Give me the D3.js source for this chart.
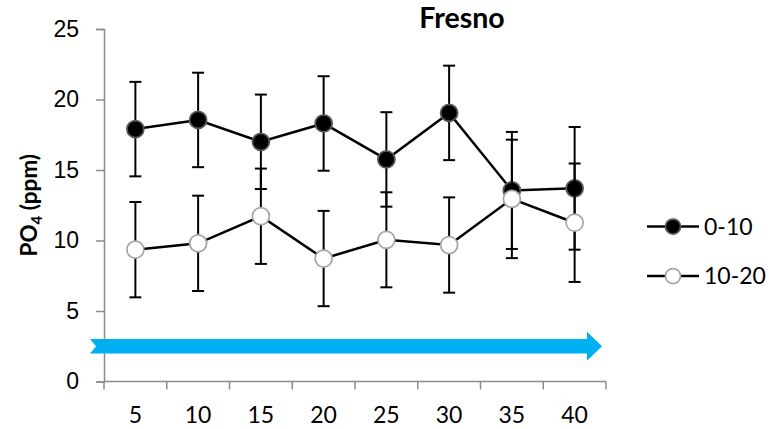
<!DOCTYPE html>
<html>
<head>
<meta charset="utf-8">
<script src="https://cdn.jsdelivr.net/npm/d3@7"></script>
<style>
  html, body { margin: 0; padding: 0; background: #fff; }
  svg { display: block; font-family: Lato, "Open Sans", sans-serif; }
  .tick-label { font-size: 23px; fill: #000; }
</style>
</head>
<body>
<div id="chart"></div>
<script>
const DEPTHS = ["5", "10", "15", "20", "25", "30", "35", "40"];
const Y_TICKS = [0, 5, 10, 15, 20, 25];
const SERIES_NAMES = ["0-10", "10-20"];
const SHALLOW_MEAN = [17.9, 18.55, 17.0, 18.3, 15.75, 19.05, 13.55, 13.7];
const SHALLOW_ERR = [3.35, 3.35, 3.35, 3.35, 3.35, 3.35, 4.15, 4.35];
const DEEP_MEAN = [9.35, 9.8, 11.72, 8.72, 10.05, 9.68, 12.95, 11.26];
const DEEP_ERR = [3.38, 3.38, 3.38, 3.38, 3.37, 3.38, 4.2, 4.2];

function drawChart() {
  const width = 771;
  const height = 429;
  const margin = { top: 29, right: 165, bottom: 47.5, left: 104 };

  const svg = d3.select("#chart").append("svg").attr("width", width).attr("height", height);

  const x = d3.scaleBand().domain(DEPTHS).range([margin.left, width - margin.right]);
  const y = d3.scaleLinear().domain([0, 25]).range([height - margin.bottom, margin.top]);
  const axisColor = "#8c8c8c";

  // y axis
  svg
    .append("g")
    .attr("transform", `translate(${margin.left}, 0)`)
    .call(d3.axisLeft(y).tickValues(Y_TICKS).tickSize(8).tickPadding(17))
    .call((g) => g.select(".domain").attr("stroke", axisColor).attr("stroke-width", 1.5))
    .call((g) => g.selectAll("line").attr("stroke", axisColor).attr("stroke-width", 1.5))
    .call((g) => g.selectAll("text").attr("class", "tick-label").attr("font-family", null).attr("font-size", null));

  // x axis: ticks sit between categories
  const xAxis = svg.append("g").attr("transform", `translate(0, ${y(0)})`);
  xAxis
    .append("line")
    .attr("x1", margin.left)
    .attr("x2", width - margin.right)
    .attr("stroke", axisColor)
    .attr("stroke-width", 1.5);
  const edges = DEPTHS.map((d) => x(d)).concat([x(DEPTHS[DEPTHS.length - 1]) + x.bandwidth()]);
  xAxis
    .selectAll("line.tk")
    .data(edges)
    .join("line")
    .attr("class", "tk")
    .attr("x1", (d) => d)
    .attr("x2", (d) => d)
    .attr("y1", 0)
    .attr("y2", 8)
    .attr("stroke", axisColor)
    .attr("stroke-width", 1.5);
  xAxis
    .selectAll("text")
    .data(DEPTHS)
    .join("text")
    .attr("class", "tick-label")
    .attr("x", (d) => x(d) + x.bandwidth() / 2)
    .attr("y", 41)
    .attr("text-anchor", "middle")
    .text((d) => d);

  // blue arrow annotation along the bottom of the plot
  const ax0 = margin.left - 14;
  const ax1 = width - margin.right - 4;
  const bandTop = y(3.02);
  const bandBot = y(1.98);
  const headTop = y(3.52);
  const headBot = y(1.47);
  const mid = y(2.5);
  const headStart = ax1 - 15;
  svg
    .append("path")
    .attr(
      "d",
      `M${ax0},${bandTop} L${headStart},${bandTop} L${headStart},${headTop} L${ax1},${mid} L${headStart},${headBot} L${headStart},${bandBot} L${ax0},${bandBot} L${ax0 + 6},${mid} Z`,
    )
    .attr("fill", "#00b0f0");

  const series = [
    { name: SERIES_NAMES[0], mean: SHALLOW_MEAN, err: SHALLOW_ERR, fill: "#000", stroke: "#595959" },
    { name: SERIES_NAMES[1], mean: DEEP_MEAN, err: DEEP_ERR, fill: "#fff", stroke: "#a6a6a6" },
  ];

  const cx = (i) => x(DEPTHS[i]) + x.bandwidth() / 2;

  series.forEach((s) => {
    const g = svg.append("g");
    const pts = s.mean.map((v, i) => ({ i, v, e: s.err[i] }));

    // error bars
    const eb = g.append("g").attr("stroke", "#000").attr("stroke-width", 2);
    eb.selectAll("line.v")
      .data(pts)
      .join("line")
      .attr("x1", (d) => cx(d.i))
      .attr("x2", (d) => cx(d.i))
      .attr("y1", (d) => y(d.v + d.e))
      .attr("y2", (d) => y(d.v - d.e));
    eb.selectAll("line.top")
      .data(pts)
      .join("line")
      .attr("x1", (d) => cx(d.i) - 6)
      .attr("x2", (d) => cx(d.i) + 6)
      .attr("y1", (d) => y(d.v + d.e))
      .attr("y2", (d) => y(d.v + d.e));
    eb.selectAll("line.bot")
      .data(pts)
      .join("line")
      .attr("x1", (d) => cx(d.i) - 6)
      .attr("x2", (d) => cx(d.i) + 6)
      .attr("y1", (d) => y(d.v - d.e))
      .attr("y2", (d) => y(d.v - d.e));

    g.append("path")
      .datum(pts)
      .attr("fill", "none")
      .attr("stroke", "#000")
      .attr("stroke-width", 2.5)
      .attr("d", d3.line().x((d) => cx(d.i)).y((d) => y(d.v)));

    g.selectAll("circle")
      .data(pts)
      .join("circle")
      .attr("cx", (d) => cx(d.i))
      .attr("cy", (d) => y(d.v))
      .attr("r", 8.5)
      .attr("fill", s.fill)
      .attr("stroke", s.stroke)
      .attr("stroke-width", 1.75);
  });

  // legend
  const legend = svg
    .append("g")
    .selectAll("g")
    .data(series)
    .join("g")
    .attr("transform", (d, i) => `translate(647, ${226.5 + i * 49.5})`);
  legend
    .append("line")
    .attr("x1", 0)
    .attr("x2", 52)
    .attr("stroke", "#000")
    .attr("stroke-width", 2.5);
  legend
    .append("circle")
    .attr("cx", 26)
    .attr("r", 7.5)
    .attr("fill", (d) => d.fill)
    .attr("stroke", (d) => d.stroke)
    .attr("stroke-width", 1.75);
  legend
    .append("text")
    .attr("class", "tick-label")
    .attr("x", 57)
    .attr("dy", "0.35em")
    .text((d) => d.name);

  // title
  svg
    .append("text")
    .attr("x", 462)
    .attr("y", 28)
    .attr("text-anchor", "middle")
    .attr("font-weight", "bold")
    .attr("font-size", 28.5)
    .text("Fresno");

  // y axis label with subscript
  const yl = svg
    .append("text")
    .attr("transform", `translate(37, ${(y(0) + y(25)) / 2}) rotate(-90)`)
    .attr("text-anchor", "middle")
    .attr("font-weight", "bold")
    .attr("font-size", 22.5);
  yl.append("tspan").text("PO");
  yl.append("tspan").attr("font-size", 15).attr("dy", 5).text("4");
  yl.append("tspan").attr("dy", -5).text(" (ppm)");
}

drawChart();
</script>
</body>
</html>
